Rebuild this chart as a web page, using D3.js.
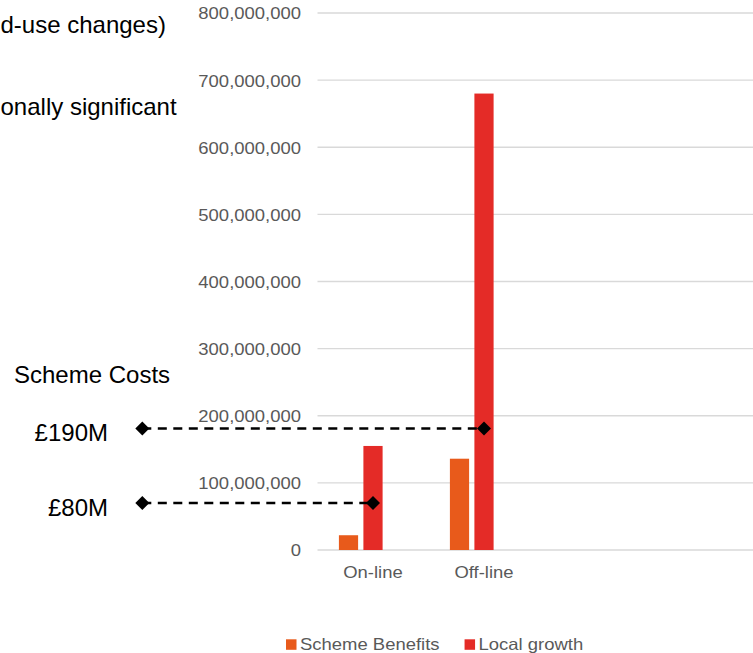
<!DOCTYPE html>
<html>
<head>
<meta charset="utf-8">
<script src="https://cdn.jsdelivr.net/npm/d3@7"></script>
<style>
  html, body { margin: 0; padding: 0; background: #fff; }
  svg { display: block; font-family: "Liberation Sans", Arial, sans-serif; }
</style>
</head>
<body>
<svg id="chart" width="753" height="653"></svg>
<script>
// chart values
const categories = ['On-line', 'Off-line'];
const seriesNames = ['Scheme Benefits', 'Local growth'];
const schemeBenefits = [22000000, 136000000];
const localGrowth = [155000000, 680000000];
const yTicks = [0, 100000000, 200000000, 300000000, 400000000, 500000000, 600000000, 700000000, 800000000];

// scheme cost markers (level, label as printed)
const costLabels = ['£190M', '£80M'];
const costLevels = [181000000, 70000000];
const costCategory = ['Off-line', 'On-line'];

const colors = ['#E85A1B', '#E42B27'];
const stretch = 1.12; // chart text in the picture is slightly wide

const svg = d3.select('#chart');
const width = 753;

const plot = { left: 317.5, right: 761, top: 13, bottom: 550 };

const y = d3.scaleLinear()
  .domain([0, 800000000])
  .range([plot.bottom, plot.top]);

// two categories take 111px each, the rest of the plot stays empty
const x0 = d3.scaleBand()
  .domain(categories)
  .range([plot.left, plot.left + 222])
  .paddingInner(0.338)
  .paddingOuter(0.169);

// a third (empty) slot keeps the bars left of the category centre
const x1 = d3.scaleBand()
  .domain([...seriesNames, 'blank'])
  .range([0, x0.bandwidth()])
  .paddingInner(0.216)
  .paddingOuter(0.108);

// gridlines
svg.append('g')
  .attr('class', 'grid')
  .selectAll('line')
  .data(yTicks)
  .join('line')
  .attr('x1', plot.left)
  .attr('x2', width)
  .attr('y1', d => y(d))
  .attr('y2', d => y(d))
  .attr('stroke', '#d9d9d9')
  .attr('stroke-width', 1.3);

// y axis labels
const yAxis = svg.append('g')
  .attr('transform', 'translate(301,0)')
  .call(d3.axisLeft(y).tickValues(yTicks).tickSize(0).tickPadding(0)
    .tickFormat(d3.format(',')));
yAxis.select('.domain').remove();
yAxis.selectAll('text')
  .attr('x', 0)
  .attr('dy', '0.36em')
  .attr('transform', `scale(${stretch},1)`)
  .attr('fill', '#595959')
  .attr('font-size', 16.5)
  .attr('font-family', '"Liberation Sans", Arial, sans-serif');

// bars
const rows = categories.map((c, i) => ({
  category: c,
  values: [schemeBenefits[i], localGrowth[i]]
}));

const groups = svg.append('g')
  .selectAll('g')
  .data(rows)
  .join('g')
  .attr('transform', d => `translate(${x0(d.category)},0)`);

groups.selectAll('rect')
  .data(d => d.values.map((v, j) => ({ name: seriesNames[j], value: v, color: colors[j] })))
  .join('rect')
  .attr('x', d => x1(d.name))
  .attr('width', x1.bandwidth())
  .attr('y', d => y(d.value))
  .attr('height', d => y(0) - y(d.value))
  .attr('fill', d => d.color);

// category labels
svg.append('g')
  .selectAll('text')
  .data(categories)
  .join('text')
  .attr('transform', d => `translate(${x0(d) + x0.bandwidth() / 2},578) scale(${stretch},1)`)
  .attr('text-anchor', 'middle')
  .attr('fill', '#595959')
  .attr('font-size', 16.5)
  .text(d => d);

// scheme cost dashed lines with diamonds
const diamond = d3.symbol(d3.symbolSquare, 98);
const markerLeft = 142.3;
const costs = costLevels.map((v, i) => ({
  level: v,
  label: costLabels[i],
  xEnd: x0(costCategory[i]) + x1('Local growth') + x1.bandwidth() / 2
}));

const cost = svg.append('g').selectAll('g')
  .data(costs)
  .join('g');

cost.append('line')
  .attr('x1', markerLeft)
  .attr('x2', d => d.xEnd)
  .attr('y1', d => y(d.level))
  .attr('y2', d => y(d.level))
  .attr('stroke', '#000')
  .attr('stroke-width', 2.5)
  .attr('stroke-dasharray', '9,6.5');

cost.selectAll('path')
  .data(d => [[markerLeft, y(d.level)], [d.xEnd, y(d.level)]])
  .join('path')
  .attr('d', diamond)
  .attr('transform', d => `translate(${d[0]},${d[1]}) rotate(45)`)
  .attr('fill', '#000');

cost.append('text')
  .attr('x', 108)
  .attr('y', d => y(d.level) + 12.5)
  .attr('text-anchor', 'end')
  .attr('font-size', 24)
  .attr('fill', '#000')
  .text(d => d.label);

// side notes (start of these lines lies off the left edge in the picture)
const notes = svg.append('g').attr('font-size', 24).attr('fill', '#000');
notes.append('text').attr('x', 0.5).attr('y', 32.5).text('d-use changes)');
notes.append('text').attr('x', 0.5).attr('y', 115).text('onally significant');
notes.append('text').attr('x', 14).attr('y', 383).text('Scheme Costs');

// legend
const legend = svg.append('g').attr('transform', 'translate(286,0)');
let lx = 0;
seriesNames.forEach((name, i) => {
  const item = legend.append('g').attr('transform', `translate(${lx},0)`);
  item.append('rect')
    .attr('x', 0).attr('y', 639.3)
    .attr('width', 10.5).attr('height', 10.5)
    .attr('fill', colors[i]);
  const t = item.append('text')
    .attr('transform', `translate(14,649.5) scale(${stretch},1)`)
    .attr('font-size', 16.5)
    .attr('fill', '#595959')
    .text(name);
  lx += 14 + t.node().getComputedTextLength() * stretch + 25;
});
</script>
</body>
</html>
